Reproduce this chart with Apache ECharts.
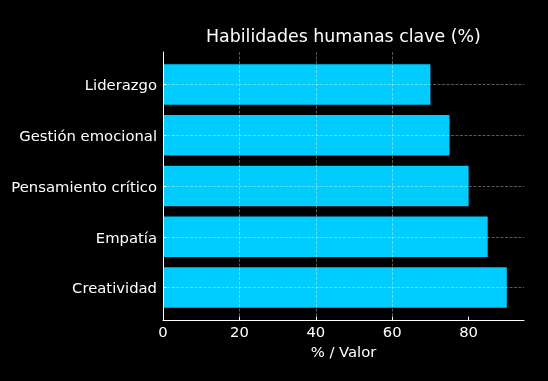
<!DOCTYPE html>
<html>
<head>
<meta charset="utf-8">
<script src="https://cdn.jsdelivr.net/npm/echarts@6/dist/echarts.min.js"></script>
<style>
html,body{margin:0;padding:0;background:#000;}
#c{width:548px;height:381px;}
</style>
</head>
<body>
<div id="c"></div>
<script>
const titleText = 'Habilidades humanas clave (%)';
const categories = ['Creatividad', 'Empatía', 'Pensamiento crítico', 'Gestión emocional', 'Liderazgo'];
const values = [90, 85, 80, 75, 70];
const xTicks = [0, 20, 40, 60, 80];
const xName = '% / Valor';
const xMax = 94.5;

const FONT = 'DejaVu Sans';
const gridLine = { show: true, lineStyle: { color: 'rgba(255,255,255,0.35)', type: [3, 1.5], width: 1 } };

const axTop = 52, axBottom = 320, axLeft = 163, axRight = 524;
const span = categories.length - 1 + 0.8 + 0.48;
const unit = (axBottom - axTop) / span;

const chart = echarts.init(document.getElementById('c'), null, { renderer: 'canvas' });
chart.setOption({
  backgroundColor: '#000',
  animation: false,
  title: {
    text: titleText,
    left: 201,
    top: 24,
    textStyle: { color: '#fff', fontFamily: FONT, fontSize: 17.4, fontWeight: 'normal' }
  },
  grid: [
    { left: axLeft, right: 548 - axRight, top: axTop, bottom: 381 - axBottom },
    { left: axLeft, right: 548 - axRight, top: axTop + 0.14 * unit, height: categories.length * unit },
    { left: axLeft, right: 548 - axRight, top: axTop + 0.64 * unit, height: (categories.length - 1) * unit }
  ],
  xAxis: [
    {
      gridIndex: 0, type: 'value', min: 0, max: xMax, interval: 20, z: 5,
      name: xName, nameLocation: 'middle', nameGap: 22,
      nameTextStyle: { color: '#fff', fontFamily: FONT, fontSize: 14.8 },
      axisLine: { show: true, lineStyle: { color: '#fff', width: 1 } },
      axisTick: { show: true, inside: true, length: 3.5, customValues: xTicks, lineStyle: { color: '#fff' } },
      axisLabel: { color: '#fff', fontFamily: FONT, fontSize: 14.8, margin: 6, customValues: xTicks },
      splitLine: Object.assign({ showMinLine: false, showMaxLine: false }, gridLine)
    },
    { gridIndex: 1, type: 'value', min: 0, max: xMax, show: false },
    { gridIndex: 2, type: 'value', min: 0, max: xMax, show: false }
  ],
  yAxis: [
    {
      gridIndex: 0, type: 'value', min: 0, max: 1, z: 5,
      axisLine: { show: true, lineStyle: { color: '#fff', width: 1 } },
      axisTick: { show: false }, axisLabel: { show: false }, splitLine: { show: false }
    },
    {
      gridIndex: 1, type: 'category', data: categories, z: 5,
      axisLine: { show: false },
      axisTick: { show: true, inside: true, length: 3.5, alignWithLabel: true, lineStyle: { color: '#fff' } },
      axisLabel: {
        interval: 0, margin: 6,
        formatter: function (v) { return '{a|' + v + '}'; },
        rich: { a: { color: '#fff', fontFamily: FONT, fontSize: 14.8, padding: [4, 0, 0, 0] } }
      },
      splitLine: { show: false }
    },
    {
      gridIndex: 2, type: 'category', data: categories, boundaryGap: false, z: 5,
      axisLine: { show: false }, axisTick: { show: false }, axisLabel: { show: false },
      splitLine: Object.assign({ interval: 0 }, gridLine)
    }
  ],
  series: [{
    type: 'bar',
    xAxisIndex: 1, yAxisIndex: 1,
    data: values,
    barWidth: '80%',
    itemStyle: { color: '#00ccff' }
  }]
});
</script>
</body>
</html>
